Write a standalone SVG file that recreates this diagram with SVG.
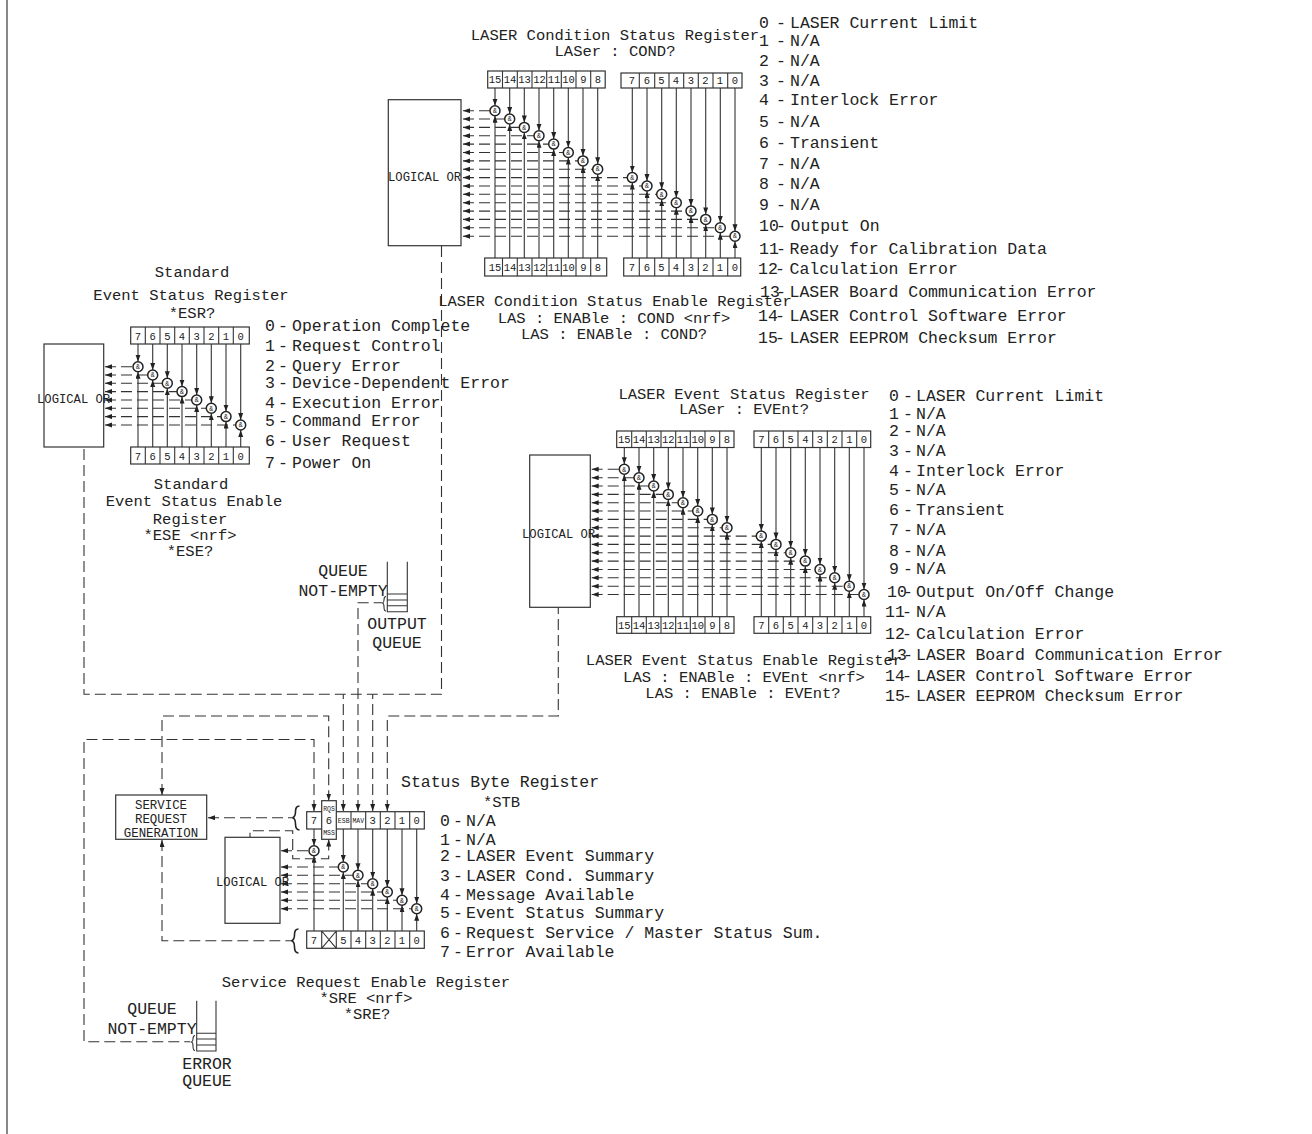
<svg xmlns="http://www.w3.org/2000/svg" width="1312" height="1134" viewBox="0 0 1312 1134">
<style>
text{font-family:"Liberation Mono","DejaVu Sans Mono",monospace;fill:#222}
.t{font-size:15.5px;text-anchor:middle}
.l{font-size:16.5px}
.m{font-size:16.5px;text-anchor:middle}
.o{font-size:12.2px}
.s{font-size:12.4px;text-anchor:middle}
.d{font-size:10.5px;text-anchor:middle}
.e{font-size:6.5px;text-anchor:middle}
.g{font-size:6.5px;text-anchor:middle}
.b{fill:#fff;stroke:#333;stroke-width:1.2}
.n{fill:none;stroke:#333;stroke-width:1.1}
.r{fill:none;stroke:#222;stroke-width:1.6}
.a{fill:none;stroke:#333;stroke-width:1.1;marker-end:url(#ah)}
.h{fill:none;stroke:#333;stroke-width:1.1;stroke-dasharray:11 5;marker-start:url(#ah)}
.x{fill:none;stroke:#333;stroke-width:1.1;stroke-dasharray:11 5}
</style>
<defs>
<marker id="ah" markerUnits="userSpaceOnUse" markerWidth="8" markerHeight="6" refX="7" refY="2.5" orient="auto-start-reverse"><path d="M0 0L7 2.5L0 5z" fill="#222"/></marker>
<g id="gate"><circle r="5" fill="#fff" stroke="#222" stroke-width="1.5"/><text class="g" y="2.2">&amp;</text></g>
</defs>
<path d="M7 0V1134" fill="none" stroke="#888" stroke-width="2"/>

<g id="connectors">
<path class="h" d="M463 110.7H490"/><path class="h" d="M463 119H505"/><path class="h" d="M463 127.4H519"/><path class="h" d="M463 135.8H534"/><path class="h" d="M463 144.1H549"/><path class="h" d="M463 152.5H563"/><path class="h" d="M463 160.9H578"/><path class="h" d="M463 169.2H593"/><path class="h" d="M463 177.6H627"/><path class="h" d="M463 186H642"/><path class="h" d="M463 194.3H657"/><path class="h" d="M463 202.7H671"/><path class="h" d="M463 211.1H686"/><path class="h" d="M463 219.4H701"/><path class="h" d="M463 227.8H715"/><path class="h" d="M463 236.2H730"/>
<path class="a" d="M495 88V105.7"/><path class="a" d="M509.7 88V114"/><path class="a" d="M524.3 88V122.4"/><path class="a" d="M539 88V130.8"/><path class="a" d="M553.7 88V139.1"/><path class="a" d="M568.3 88V147.5"/><path class="a" d="M583 88V155.9"/><path class="a" d="M597.7 88V164.2"/>
<path class="a" d="M632.3 88V172.6"/><path class="a" d="M647 88V181"/><path class="a" d="M661.7 88V189.3"/><path class="a" d="M676.3 88V197.7"/><path class="a" d="M691 88V206.1"/><path class="a" d="M705.7 88V214.4"/><path class="a" d="M720.3 88V222.8"/><path class="a" d="M735 88V231.2"/>
<path class="a" d="M495 258V115.7"/><path class="a" d="M509.7 258V124"/><path class="a" d="M524.3 258V132.4"/><path class="a" d="M539 258V140.8"/><path class="a" d="M553.7 258V149.1"/><path class="a" d="M568.3 258V157.5"/><path class="a" d="M583 258V165.9"/><path class="a" d="M597.7 258V174.2"/>
<path class="a" d="M632.3 258V182.6"/><path class="a" d="M647 258V191"/><path class="a" d="M661.7 258V199.3"/><path class="a" d="M676.3 258V207.7"/><path class="a" d="M691 258V216.1"/><path class="a" d="M705.7 258V224.4"/><path class="a" d="M720.3 258V232.8"/><path class="a" d="M735 258V241.2"/>

<path class="h" d="M105 366.7H133"/><path class="h" d="M105 375H148"/><path class="h" d="M105 383.3H162"/><path class="h" d="M105 391.6H177"/><path class="h" d="M105 400H192"/><path class="h" d="M105 408.3H206"/><path class="h" d="M105 416.6H221"/><path class="h" d="M105 425H236"/>
<path class="a" d="M138 344V361.7"/><path class="a" d="M152.7 344V370"/><path class="a" d="M167.3 344V378.3"/><path class="a" d="M182 344V386.6"/><path class="a" d="M196.7 344V395"/><path class="a" d="M211.3 344V403.3"/><path class="a" d="M226 344V411.6"/><path class="a" d="M240.7 344V420"/>
<path class="a" d="M138 447V371.7"/><path class="a" d="M152.7 447V380"/><path class="a" d="M167.3 447V388.3"/><path class="a" d="M182 447V396.6"/><path class="a" d="M196.7 447V405"/><path class="a" d="M211.3 447V413.3"/><path class="a" d="M226 447V421.6"/><path class="a" d="M240.7 447V430"/>

<path class="h" d="M591.7 469.3H619"/><path class="h" d="M591.7 477.7H634"/><path class="h" d="M591.7 486H649"/><path class="h" d="M591.7 494.4H663"/><path class="h" d="M591.7 502.7H678"/><path class="h" d="M591.7 511H693"/><path class="h" d="M591.7 519.4H707"/><path class="h" d="M591.7 527.7H722"/><path class="h" d="M591.7 536.1H756"/><path class="h" d="M591.7 544.4H771"/><path class="h" d="M591.7 552.8H786"/><path class="h" d="M591.7 561.1H800"/><path class="h" d="M591.7 569.5H815"/><path class="h" d="M591.7 577.8H830"/><path class="h" d="M591.7 586.2H844"/><path class="h" d="M591.7 594.5H859"/>
<path class="a" d="M624.3 447.5V464.3"/><path class="a" d="M639 447.5V472.7"/><path class="a" d="M653.7 447.5V481"/><path class="a" d="M668.3 447.5V489.4"/><path class="a" d="M683 447.5V497.7"/><path class="a" d="M697.7 447.5V506"/><path class="a" d="M712.3 447.5V514.4"/><path class="a" d="M727 447.5V522.7"/>
<path class="a" d="M761.3 447.5V531.1"/><path class="a" d="M776 447.5V539.4"/><path class="a" d="M790.7 447.5V547.8"/><path class="a" d="M805.3 447.5V556.1"/><path class="a" d="M820 447.5V564.5"/><path class="a" d="M834.7 447.5V572.8"/><path class="a" d="M849.3 447.5V581.2"/><path class="a" d="M864 447.5V589.5"/>
<path class="a" d="M624.3 616.7V474.3"/><path class="a" d="M639 616.7V482.7"/><path class="a" d="M653.7 616.7V491"/><path class="a" d="M668.3 616.7V499.4"/><path class="a" d="M683 616.7V507.7"/><path class="a" d="M697.7 616.7V516"/><path class="a" d="M712.3 616.7V524.4"/><path class="a" d="M727 616.7V532.7"/>
<path class="a" d="M761.3 616.7V541.1"/><path class="a" d="M776 616.7V549.4"/><path class="a" d="M790.7 616.7V557.8"/><path class="a" d="M805.3 616.7V566.1"/><path class="a" d="M820 616.7V574.5"/><path class="a" d="M834.7 616.7V582.8"/><path class="a" d="M849.3 616.7V591.2"/><path class="a" d="M864 616.7V599.5"/>

<path class="h" d="M281 850.7H309"/><path class="h" d="M281 867H338"/><path class="h" d="M281 875.3H353"/><path class="h" d="M281 883.7H368"/><path class="h" d="M281 892H382"/><path class="h" d="M281 900.3H397"/><path class="h" d="M281 908.7H412"/>
<path class="a" d="M314 829V845.7"/><path class="a" d="M343.3 829V862"/><path class="a" d="M358 829V870.3"/><path class="a" d="M372.7 829V878.7"/><path class="a" d="M387.3 829V887"/><path class="a" d="M402 829V895.3"/><path class="a" d="M416.7 829V903.7"/>
<path class="a" d="M314 931V855.7"/><path class="a" d="M343.3 931V872"/><path class="a" d="M358 931V880.3"/><path class="a" d="M372.7 931V888.7"/><path class="a" d="M387.3 931V897"/><path class="a" d="M402 931V905.3"/><path class="a" d="M416.7 931V913.7"/>
<path class="h" d="M328.7 839.5V858.7H292.7V830.7H250V837"/>
<path class="h" d="M208 817.7H293"/>
<path class="h" d="M162 840V940.7H292"/>
<path class="x" d="M441.5 246V694.3H84V447"/>
<path class="h" d="M343.3 811V694.3"/>
<path class="h" d="M358 811V602.7H381.7"/>
<path class="h" d="M372.7 811V694.3"/>
<path class="h" d="M387.3 811V716H558.3V607.5"/>
<path class="h" d="M162 795V716H328.7V800.5" style="marker-end:url(#ah)"/>
<path class="h" d="M314 811V739.5H84V1041.7H190"/>
</g>

<g id="logical-or-1"><rect class="b" x="388.3" y="99.7" width="72.7" height="146"/><text class="o" x="388" y="180.5">LOGICAL OR</text></g>
<g id="logical-or-2"><rect class="b" x="44" y="344" width="59.7" height="103"/><text class="o" x="37" y="403">LOGICAL OR</text></g>
<g id="logical-or-3"><rect class="b" x="529.7" y="455" width="60.6" height="152.3"/><text class="o" x="522" y="538">LOGICAL OR</text></g>
<g id="logical-or-4"><rect class="b" x="225" y="837.3" width="55" height="86"/><text class="o" x="216" y="885.5">LOGICAL OR</text></g>

<g id="gates-1"><use href="#gate" x="495" y="110.7"/><use href="#gate" x="509.7" y="119"/><use href="#gate" x="524.3" y="127.4"/><use href="#gate" x="539" y="135.8"/><use href="#gate" x="553.7" y="144.1"/><use href="#gate" x="568.3" y="152.5"/><use href="#gate" x="583" y="160.9"/><use href="#gate" x="597.7" y="169.2"/><use href="#gate" x="632.3" y="177.6"/><use href="#gate" x="647" y="186"/><use href="#gate" x="661.7" y="194.3"/><use href="#gate" x="676.3" y="202.7"/><use href="#gate" x="691" y="211.1"/><use href="#gate" x="705.7" y="219.4"/><use href="#gate" x="720.3" y="227.8"/><use href="#gate" x="735" y="236.2"/></g>
<g id="gates-2"><use href="#gate" x="138" y="366.7"/><use href="#gate" x="152.7" y="375"/><use href="#gate" x="167.3" y="383.3"/><use href="#gate" x="182" y="391.6"/><use href="#gate" x="196.7" y="400"/><use href="#gate" x="211.3" y="408.3"/><use href="#gate" x="226" y="416.6"/><use href="#gate" x="240.7" y="425"/></g>
<g id="gates-3"><use href="#gate" x="624.3" y="469.3"/><use href="#gate" x="639" y="477.7"/><use href="#gate" x="653.7" y="486"/><use href="#gate" x="668.3" y="494.4"/><use href="#gate" x="683" y="502.7"/><use href="#gate" x="697.7" y="511"/><use href="#gate" x="712.3" y="519.4"/><use href="#gate" x="727" y="527.7"/><use href="#gate" x="761.3" y="536.1"/><use href="#gate" x="776" y="544.4"/><use href="#gate" x="790.7" y="552.8"/><use href="#gate" x="805.3" y="561.1"/><use href="#gate" x="820" y="569.5"/><use href="#gate" x="834.7" y="577.8"/><use href="#gate" x="849.3" y="586.2"/><use href="#gate" x="864" y="594.5"/></g>
<g id="gates-4"><use href="#gate" x="314" y="850.7"/><use href="#gate" x="343.3" y="867"/><use href="#gate" x="358" y="875.3"/><use href="#gate" x="372.7" y="883.7"/><use href="#gate" x="387.3" y="892"/><use href="#gate" x="402" y="900.3"/><use href="#gate" x="416.7" y="908.7"/></g>

<g id="reg-cond-hi"><rect class="b" x="487.7" y="71" width="117.5" height="17"/><path class="n" d="M502.5 71v17M517.3 71v17M532 71v17M546.7 71v17M561.3 71v17M576 71v17M590.7 71v17"/>
<text class="d" x="495" y="83">15</text><text class="d" x="510" y="83">14</text><text class="d" x="524.5" y="83">13</text><text class="d" x="539.5" y="83">12</text><text class="d" x="554" y="83">11</text><text class="d" x="568.5" y="83">10</text><text class="d" x="583.5" y="83">9</text><text class="d" x="598" y="83">8</text></g>
<g id="reg-cond-lo"><rect class="b" x="621" y="73" width="121" height="15"/><path class="n" d="M639.3 73v15M654.7 73v15M669 73v15M683.7 73v15M698.3 73v15M713 73v15M727.7 73v15"/>
<text class="d" x="632" y="84">7</text><text class="d" x="647" y="84">6</text><text class="d" x="661.5" y="84">5</text><text class="d" x="676" y="84">4</text><text class="d" x="691" y="84">3</text><text class="d" x="705.5" y="84">2</text><text class="d" x="720" y="84">1</text><text class="d" x="735" y="84">0</text></g>
<g id="reg-cond-en-hi"><rect class="b" x="484.7" y="258" width="122" height="18"/><path class="n" d="M502.5 258v18M517.3 258v18M532 258v18M546.7 258v18M561.3 258v18M576 258v18M590.7 258v18"/>
<text class="d" x="495" y="270.5">15</text><text class="d" x="510" y="270.5">14</text><text class="d" x="524.5" y="270.5">13</text><text class="d" x="539.5" y="270.5">12</text><text class="d" x="554" y="270.5">11</text><text class="d" x="568.5" y="270.5">10</text><text class="d" x="583.5" y="270.5">9</text><text class="d" x="598" y="270.5">8</text></g>
<g id="reg-cond-en-lo"><rect class="b" x="623.7" y="258" width="117" height="18"/><path class="n" d="M639.3 258v18M654.7 258v18M669 258v18M683.7 258v18M698.3 258v18M713 258v18M727.7 258v18"/>
<text class="d" x="632" y="270.5">7</text><text class="d" x="647" y="270.5">6</text><text class="d" x="661.5" y="270.5">5</text><text class="d" x="676" y="270.5">4</text><text class="d" x="691" y="270.5">3</text><text class="d" x="705.5" y="270.5">2</text><text class="d" x="720" y="270.5">1</text><text class="d" x="735" y="270.5">0</text></g>

<g id="reg-esr"><rect class="b" x="130.7" y="327" width="118.6" height="17"/><path class="n" d="M145.3 327v17M160 327v17M174.7 327v17M189.3 327v17M204 327v17M218.7 327v17M233.3 327v17"/>
<text class="d" x="138" y="339.5">7</text><text class="d" x="152.7" y="339.5">6</text><text class="d" x="167.3" y="339.5">5</text><text class="d" x="182" y="339.5">4</text><text class="d" x="196.7" y="339.5">3</text><text class="d" x="211.3" y="339.5">2</text><text class="d" x="226" y="339.5">1</text><text class="d" x="240.7" y="339.5">0</text></g>
<g id="reg-ese"><rect class="b" x="130.7" y="447" width="118.6" height="17"/><path class="n" d="M145.3 447v17M160 447v17M174.7 447v17M189.3 447v17M204 447v17M218.7 447v17M233.3 447v17"/>
<text class="d" x="138" y="459.5">7</text><text class="d" x="152.7" y="459.5">6</text><text class="d" x="167.3" y="459.5">5</text><text class="d" x="182" y="459.5">4</text><text class="d" x="196.7" y="459.5">3</text><text class="d" x="211.3" y="459.5">2</text><text class="d" x="226" y="459.5">1</text><text class="d" x="240.7" y="459.5">0</text></g>

<g id="reg-evt-hi"><rect class="b" x="616.7" y="431" width="117.3" height="16.5"/><path class="n" d="M631.7 431v16.5M646.3 431v16.5M661 431v16.5M675.7 431v16.5M690.3 431v16.5M705 431v16.5M719.7 431v16.5"/>
<text class="d" x="624.3" y="443">15</text><text class="d" x="639" y="443">14</text><text class="d" x="653.7" y="443">13</text><text class="d" x="668.3" y="443">12</text><text class="d" x="683" y="443">11</text><text class="d" x="697.7" y="443">10</text><text class="d" x="712.3" y="443">9</text><text class="d" x="727" y="443">8</text></g>
<g id="reg-evt-lo"><rect class="b" x="754" y="431" width="116.7" height="16.5"/><path class="n" d="M768.7 431v16.5M783.3 431v16.5M798 431v16.5M812.7 431v16.5M827.3 431v16.5M842 431v16.5M856.7 431v16.5"/>
<text class="d" x="761.3" y="443">7</text><text class="d" x="776" y="443">6</text><text class="d" x="790.7" y="443">5</text><text class="d" x="805.3" y="443">4</text><text class="d" x="820" y="443">3</text><text class="d" x="834.7" y="443">2</text><text class="d" x="849.3" y="443">1</text><text class="d" x="864" y="443">0</text></g>
<g id="reg-evt-en-hi"><rect class="b" x="616.7" y="616.7" width="117.3" height="16.6"/><path class="n" d="M631.7 616.7v16.6M646.3 616.7v16.6M661 616.7v16.6M675.7 616.7v16.6M690.3 616.7v16.6M705 616.7v16.6M719.7 616.7v16.6"/>
<text class="d" x="624.3" y="629">15</text><text class="d" x="639" y="629">14</text><text class="d" x="653.7" y="629">13</text><text class="d" x="668.3" y="629">12</text><text class="d" x="683" y="629">11</text><text class="d" x="697.7" y="629">10</text><text class="d" x="712.3" y="629">9</text><text class="d" x="727" y="629">8</text></g>
<g id="reg-evt-en-lo"><rect class="b" x="754" y="616.7" width="116.7" height="16.6"/><path class="n" d="M768.7 616.7v16.6M783.3 616.7v16.6M798 616.7v16.6M812.7 616.7v16.6M827.3 616.7v16.6M842 616.7v16.6M856.7 616.7v16.6"/>
<text class="d" x="761.3" y="629">7</text><text class="d" x="776" y="629">6</text><text class="d" x="790.7" y="629">5</text><text class="d" x="805.3" y="629">4</text><text class="d" x="820" y="629">3</text><text class="d" x="834.7" y="629">2</text><text class="d" x="849.3" y="629">1</text><text class="d" x="864" y="629">0</text></g>

<g id="reg-stb"><rect class="b" x="306.7" y="811.7" width="117.6" height="17.3"/><path class="n" d="M351 811.7v17.3M365.7 811.7v17.3M380.3 811.7v17.3M395 811.7v17.3M409.7 811.7v17.3"/>
<rect class="b" x="321.7" y="800.7" width="14.6" height="38.6"/>
<text class="d" x="314" y="824">7</text><text class="d" x="329" y="824">6</text><text class="e" x="329" y="811">RQS</text><text class="e" x="329" y="835">MSS</text><text class="e" x="343.7" y="823">ESB</text><text class="e" x="358.3" y="823">MAV</text><text class="d" x="372.7" y="824">3</text><text class="d" x="387.3" y="824">2</text><text class="d" x="402" y="824">1</text><text class="d" x="416.7" y="824">0</text></g>
<g id="reg-sre"><rect class="b" x="306.7" y="931" width="117.6" height="17.3"/><path class="n" d="M321.7 931v17.3M336.3 931v17.3M351 931v17.3M365.7 931v17.3M380.3 931v17.3M395 931v17.3M409.7 931v17.3M321.7 931L336.3 948.3M336.3 931L321.7 948.3"/>
<text class="d" x="314" y="943.5">7</text><text class="d" x="343.3" y="943.5">5</text><text class="d" x="358" y="943.5">4</text><text class="d" x="372.7" y="943.5">3</text><text class="d" x="387.3" y="943.5">2</text><text class="d" x="402" y="943.5">1</text><text class="d" x="416.7" y="943.5">0</text></g>
<path class="r" d="M299.5 806Q295.5 806 295.5 811.5Q295.5 817 292.5 817.7Q295.5 818.5 295.5 824Q295.5 830 299.5 830"/>
<path class="r" d="M298.5 929Q294.5 929 294.5 934.5Q294.5 940 291.5 940.7Q294.5 941.5 294.5 947Q294.5 953 298.5 953"/>

<g id="srg"><rect class="b" x="115.7" y="795" width="91" height="44.3"/><text class="s" x="161" y="809">SERVICE</text><text class="s" x="161" y="823">REQUEST</text><text class="s" x="161" y="837">GENERATION</text></g>

<g id="output-queue"><path class="n" d="M387.3 561.7V611.7H407.3V561.7M387.3 594H407.3M387.3 600H407.3M387.3 605.7H407.3M386 596.5Q384 596.5 384 600Q384 602.7 382.5 603Q384 603.5 384 607Q384 611 386 611"/>
<text class="m" x="343" y="576">QUEUE</text><text class="m" x="343" y="596">NOT-EMPTY</text><text class="m" x="397" y="629">OUTPUT</text><text class="m" x="397" y="648">QUEUE</text></g>
<g id="error-queue"><path class="n" d="M196.7 1000.7V1051H216V1000.7M196.7 1033.3H216M196.7 1039H216M196.7 1045H216M195 1035.5Q193 1035.5 193 1039Q193 1041.5 191.5 1042Q193 1042.5 193 1046Q193 1050.5 195 1050.5"/>
<text class="m" x="152" y="1014">QUEUE</text><text class="m" x="152" y="1034">NOT-EMPTY</text><text class="m" x="207" y="1069">ERROR</text><text class="m" x="207" y="1086">QUEUE</text></g>

<g id="titles">
<text class="t" x="615" y="39.5">LASER Condition Status Register</text><text class="t" x="615" y="55.5">LASer : COND?</text>
<text class="t" x="615" y="305.5">LASER Condition Status Enable Register</text><text class="t" x="614" y="322.5">LAS : ENABle : COND &lt;nrf&gt;</text><text class="t" x="614" y="338.5">LAS : ENABle : COND?</text>
<text class="t" x="192" y="276.5">Standard</text><text class="t" x="191" y="299.5">Event Status Register</text><text class="t" x="192" y="317.5">*ESR?</text>
<text class="t" x="191" y="488.5">Standard</text><text class="t" x="194" y="505.5">Event Status Enable</text><text class="t" x="190" y="523.5">Register</text><text class="t" x="190" y="539.5">*ESE &lt;nrf&gt;</text><text class="t" x="190" y="555.5">*ESE?</text>
<text class="t" x="744" y="398.5">LASER Event Status Register</text><text class="t" x="744" y="413.5">LASer : EVEnt?</text>
<text class="t" x="744" y="664.5">LASER Event Status Enable Register</text><text class="t" x="744" y="681.5">LAS : ENABle : EVEnt &lt;nrf&gt;</text><text class="t" x="743" y="697.5">LAS : ENABle : EVEnt?</text>
<text class="l" x="401" y="787">Status Byte Register</text><text class="t" x="501.5" y="806.5">*STB</text>
<text class="t" x="366" y="986.5">Service Request Enable Register</text><text class="t" x="366" y="1002.5">*SRE &lt;nrf&gt;</text><text class="t" x="367" y="1018.5">*SRE?</text>
</g>

<g id="list-cond">
<text class="l" y="28"><tspan x="759">0</tspan><tspan x="776">-</tspan><tspan x="790">LASER Current Limit</tspan></text>
<text class="l" y="46"><tspan x="759">1</tspan><tspan x="776">-</tspan><tspan x="790">N/A</tspan></text>
<text class="l" y="66"><tspan x="759">2</tspan><tspan x="776">-</tspan><tspan x="790">N/A</tspan></text>
<text class="l" y="86"><tspan x="759">3</tspan><tspan x="776">-</tspan><tspan x="790">N/A</tspan></text>
<text class="l" y="105"><tspan x="759">4</tspan><tspan x="776">-</tspan><tspan x="790">Interlock Error</tspan></text>
<text class="l" y="127"><tspan x="759">5</tspan><tspan x="776">-</tspan><tspan x="790">N/A</tspan></text>
<text class="l" y="148"><tspan x="759">6</tspan><tspan x="776">-</tspan><tspan x="790">Transient</tspan></text>
<text class="l" y="169"><tspan x="759">7</tspan><tspan x="776">-</tspan><tspan x="790">N/A</tspan></text>
<text class="l" y="189"><tspan x="759">8</tspan><tspan x="776">-</tspan><tspan x="790">N/A</tspan></text>
<text class="l" y="210"><tspan x="759">9</tspan><tspan x="776">-</tspan><tspan x="790">N/A</tspan></text>
<text class="l" y="231"><tspan x="759">10</tspan><tspan x="776">-</tspan><tspan x="790.5">Output On</tspan></text>
<text class="l" y="254"><tspan x="759">11</tspan><tspan x="776">-</tspan><tspan x="789.5">Ready for Calibration Data</tspan></text>
<text class="l" y="274"><tspan x="758">12</tspan><tspan x="775">-</tspan><tspan x="789.5">Calculation Error</tspan></text>
<text class="l" y="297"><tspan x="760">13</tspan><tspan x="776">-</tspan><tspan x="789.5">LASER Board Communication Error</tspan></text>
<text class="l" y="321"><tspan x="758">14</tspan><tspan x="775">-</tspan><tspan x="789.5">LASER Control Software Error</tspan></text>
<text class="l" y="343"><tspan x="758">15</tspan><tspan x="775">-</tspan><tspan x="789.5">LASER EEPROM Checksum Error</tspan></text>
</g>
<g id="list-std">
<text class="l" y="331"><tspan x="265">0</tspan><tspan x="278">-</tspan><tspan x="292">Operation Complete</tspan></text>
<text class="l" y="351"><tspan x="265">1</tspan><tspan x="278">-</tspan><tspan x="292">Request Control</tspan></text>
<text class="l" y="371"><tspan x="265">2</tspan><tspan x="278">-</tspan><tspan x="292">Query Error</tspan></text>
<text class="l" y="388"><tspan x="265">3</tspan><tspan x="278">-</tspan><tspan x="292">Device-Dependent Error</tspan></text>
<text class="l" y="408"><tspan x="265">4</tspan><tspan x="278">-</tspan><tspan x="292">Execution Error</tspan></text>
<text class="l" y="426"><tspan x="265">5</tspan><tspan x="278">-</tspan><tspan x="292">Command Error</tspan></text>
<text class="l" y="446"><tspan x="265">6</tspan><tspan x="278">-</tspan><tspan x="292">User Request</tspan></text>
<text class="l" y="468"><tspan x="265">7</tspan><tspan x="278">-</tspan><tspan x="292">Power On</tspan></text>
</g>
<g id="list-evt">
<text class="l" y="401"><tspan x="889">0</tspan><tspan x="903">-</tspan><tspan x="916">LASER Current Limit</tspan></text>
<text class="l" y="419"><tspan x="889">1</tspan><tspan x="903">-</tspan><tspan x="916">N/A</tspan></text>
<text class="l" y="436"><tspan x="889">2</tspan><tspan x="903">-</tspan><tspan x="916">N/A</tspan></text>
<text class="l" y="456"><tspan x="889">3</tspan><tspan x="903">-</tspan><tspan x="916">N/A</tspan></text>
<text class="l" y="476"><tspan x="889">4</tspan><tspan x="903">-</tspan><tspan x="916">Interlock Error</tspan></text>
<text class="l" y="495"><tspan x="889">5</tspan><tspan x="903">-</tspan><tspan x="916">N/A</tspan></text>
<text class="l" y="515"><tspan x="889">6</tspan><tspan x="903">-</tspan><tspan x="916">Transient</tspan></text>
<text class="l" y="535"><tspan x="889">7</tspan><tspan x="903">-</tspan><tspan x="916">N/A</tspan></text>
<text class="l" y="556"><tspan x="889">8</tspan><tspan x="903">-</tspan><tspan x="916">N/A</tspan></text>
<text class="l" y="574"><tspan x="889">9</tspan><tspan x="903">-</tspan><tspan x="916">N/A</tspan></text>
<text class="l" y="597"><tspan x="887">10</tspan><tspan x="903">-</tspan><tspan x="916">Output On/Off Change</tspan></text>
<text class="l" y="617"><tspan x="885">11</tspan><tspan x="902">-</tspan><tspan x="916">N/A</tspan></text>
<text class="l" y="639"><tspan x="885">12</tspan><tspan x="902">-</tspan><tspan x="916">Calculation Error</tspan></text>
<text class="l" y="660"><tspan x="887">13</tspan><tspan x="903">-</tspan><tspan x="916">LASER Board Communication Error</tspan></text>
<text class="l" y="681"><tspan x="885">14</tspan><tspan x="902">-</tspan><tspan x="916">LASER Control Software Error</tspan></text>
<text class="l" y="701"><tspan x="885">15</tspan><tspan x="902">-</tspan><tspan x="916">LASER EEPROM Checksum Error</tspan></text>
</g>
<g id="list-stb">
<text class="l" y="826"><tspan x="440">0</tspan><tspan x="453">-</tspan><tspan x="466">N/A</tspan></text>
<text class="l" y="845"><tspan x="440">1</tspan><tspan x="453">-</tspan><tspan x="466">N/A</tspan></text>
<text class="l" y="861"><tspan x="440">2</tspan><tspan x="453">-</tspan><tspan x="466">LASER Event Summary</tspan></text>
<text class="l" y="881"><tspan x="440">3</tspan><tspan x="453">-</tspan><tspan x="466">LASER Cond. Summary</tspan></text>
<text class="l" y="900"><tspan x="440">4</tspan><tspan x="453">-</tspan><tspan x="466">Message Available</tspan></text>
<text class="l" y="918"><tspan x="440">5</tspan><tspan x="453">-</tspan><tspan x="466">Event Status Summary</tspan></text>
<text class="l" y="938"><tspan x="440">6</tspan><tspan x="453">-</tspan><tspan x="466">Request Service / Master Status Sum.</tspan></text>
<text class="l" y="957"><tspan x="440">7</tspan><tspan x="453">-</tspan><tspan x="466">Error Available</tspan></text>
</g>
</svg>
